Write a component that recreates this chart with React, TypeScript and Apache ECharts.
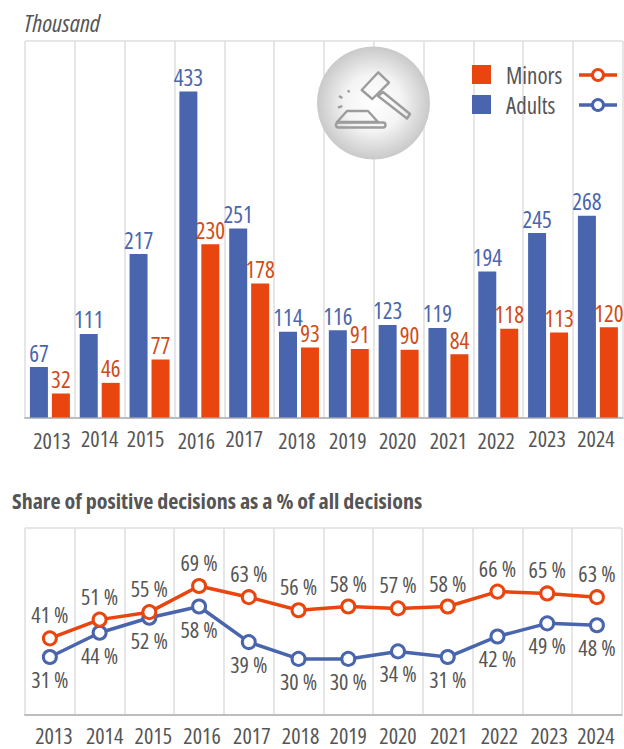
import React, { useEffect, useRef } from "react";
import * as echarts from "echarts";

const years = ["2013","2014","2015","2016","2017","2018","2019","2020","2021","2022","2023","2024"];
const adultsThousand = [67,111,217,433,251,114,116,123,119,194,245,268];
const minorsThousand = [32,46,77,230,178,93,91,90,84,118,113,120];
const adultsShare = [31,44,52,58,39,30,30,34,31,42,49,48];
const minorsShare = [41,51,55,69,63,56,58,57,58,66,65,63];
const topYearPadding = [[2,0,0,4],[0,0,0,0],[0,8,0,0],[2,6,0,0],[0,10,0,0],[2,4,0,0],[2,2,0,0],[2,2,0,0],[2,0,0,0],[2,4,0,0],[0,2,0,0],[0,4,0,0]];
const bottomYearPadding = [[0,0,0,8],[0,0,0,10],[0,0,0,8],[0,0,0,6],[0,0,0,6],[0,0,0,4],[0,0,0,0],[0,0,0,0],[0,0,0,2],[0,0,0,4],[0,0,0,4],[0,2,0,0]];

const FONT = "'Open Sans', sans-serif";
const BLUE = "#4865ae";
const ORANGE = "#e9450f";
const BLUE_TXT = "#4a66ae";
const ORANGE_TXT = "#cf4c18";
const GREY = "#555555";
const GRID = "#dedede";
const AXIS = "#bdbdbd";
const ICON = "#9c9c9c";

const xAxisFor = (gridIndex: number, pads: number[][], margin: number) => ({
  type: "category" as const,
  gridIndex,
  data: years.map((y, i) => ({ value: y, textStyle: { padding: pads[i] } })),
  axisTick: { show: false },
  axisLine: { show: true, lineStyle: { color: AXIS, width: 2 } },
  axisLabel: { interval: 0, color: GREY, fontFamily: FONT, fontSize: 22, margin },
  splitLine: { show: true, interval: 0, lineStyle: { color: GRID, width: 1.5 } },
});

const yAxisFor = (gridIndex: number, max: number) => ({
  type: "value" as const,
  gridIndex,
  min: 0,
  max,
  interval: max,
  axisLabel: { show: false },
  axisLine: { show: false },
  axisTick: { show: false },
  splitLine: { show: true, lineStyle: { color: GRID, width: 1.5 } },
});

const lineSeries = (name: string, data: number[], color: string, pos: "top" | "bottom") => ({
  name,
  type: "line" as const,
  xAxisIndex: 1,
  yAxisIndex: 1,
  data,
  symbol: "circle",
  symbolSize: 13,
  showSymbol: true,
  itemStyle: { color: "#ffffff", borderColor: color, borderWidth: 3 },
  lineStyle: { color, width: 3.5 },
  label: {
    show: true,
    position: pos,
    distance: pos === "top" ? 5 : 3,
    color: GREY,
    fontFamily: FONT,
    fontSize: 22,
    formatter: "{c} %",
  },
});

const legendRow = (label: string, color: string, y: number) => [
  { type: "rect", z: 30, shape: { x: 472, y: y - 10, width: 19, height: 19 }, style: { fill: color } },
  { type: "text", z: 30, x: 506, y, style: { text: label, fill: GREY, font: `23px ${FONT}`, textVerticalAlign: "middle" } },
  { type: "line", z: 30, shape: { x1: 579, y1: y, x2: 617, y2: y }, style: { stroke: color, lineWidth: 3.5 } },
  { type: "circle", z: 31, shape: { cx: 598, cy: y, r: 5.5 }, style: { fill: "#ffffff", stroke: color, lineWidth: 3 } },
];

const iconStroke = { fill: "none", stroke: ICON, lineWidth: 2.4, lineJoin: "round" as const };
const gavel = [
  {
    type: "circle",
    z: 30,
    shape: { cx: 373.5, cy: 103, r: 56.5 },
    style: {
      fill: {
        type: "radial", x: 0.5, y: 0.5, r: 0.5,
        colorStops: [
          { offset: 0, color: "#ffffff" },
          { offset: 0.5, color: "#f4f4f4" },
          { offset: 1, color: "#c9c9c9" },
        ],
      },
    },
  },
  { type: "polygon", z: 31, shape: { points: [[378.3,72.3],[389,82.6],[372.3,99],[361.7,90]] }, style: iconStroke },
  { type: "polygon", z: 31, shape: { points: [[383,92],[410,114],[407,118.5],[378,96]] }, style: iconStroke },
  { type: "polygon", z: 31, shape: { points: [[347,111],[368,111],[378,122],[337,122]] }, style: iconStroke },
  { type: "rect", z: 31, shape: { x: 336, y: 122.5, width: 49.5, height: 5, r: 2.5 }, style: iconStroke },
  { type: "line", z: 31, shape: { x1: 348.3, y1: 90, x2: 349, y2: 92.5 }, style: iconStroke },
  { type: "line", z: 31, shape: { x1: 339, y1: 96, x2: 342.3, y2: 98 }, style: iconStroke },
  { type: "line", z: 31, shape: { x1: 338, y1: 107.7, x2: 342.3, y2: 106 }, style: iconStroke },
];

const barLabel = (color: string) => ({
  show: true,
  position: "top" as const,
  distance: 3,
  color,
  fontFamily: FONT,
  fontSize: 23,
});

export default function App() {
  const ref = useRef<HTMLDivElement>(null);
  useEffect(() => {
    document.body.style.margin = "0";
    const chart = echarts.init(ref.current!, undefined, { renderer: "svg" });
    chart.setOption({
      animation: false,
      backgroundColor: "#ffffff",
      title: [
        { text: "Thousand", left: 19, top: 5, textStyle: { color: GREY, fontFamily: FONT, fontSize: 24.5, fontStyle: "italic", fontWeight: "normal" } },
        { text: "Share of positive decisions as a % of all decisions", left: 7, top: 484, textStyle: { color: GREY, fontFamily: FONT, fontSize: 22, fontWeight: "bold" } },
      ],
      grid: [
        { left: 25, right: 0, top: 41, height: 376.5 },
        { left: 25, right: 0, top: 528, height: 187 },
      ],
      xAxis: [xAxisFor(0, topYearPadding, 9), xAxisFor(1, bottomYearPadding, 9)],
      yAxis: [yAxisFor(0, 500), yAxisFor(1, 100)],
      series: [
        { name: "Adults", type: "bar", xAxisIndex: 0, yAxisIndex: 0, data: adultsThousand, barWidth: 18, barGap: "22%", itemStyle: { color: BLUE }, label: barLabel(BLUE_TXT) },
        { name: "Minors", type: "bar", xAxisIndex: 0, yAxisIndex: 0, data: minorsThousand, barWidth: 18, itemStyle: { color: ORANGE }, label: barLabel(ORANGE_TXT) },
        lineSeries("Adults share", adultsShare, BLUE, "bottom"),
        lineSeries("Minors share", minorsShare, ORANGE, "top"),
      ],
      graphic: {
        z: 20,
        elements: [...gavel, ...legendRow("Minors", ORANGE, 75), ...legendRow("Adults", BLUE, 105)],
      },
    });
    return () => chart.dispose();
  }, []);
  return (
    <>
      <style>{"svg text { font-stretch: 75% !important; }"}</style>
      <div ref={ref} style={{ width: 624, height: 749 }} />
    </>
  );
}
